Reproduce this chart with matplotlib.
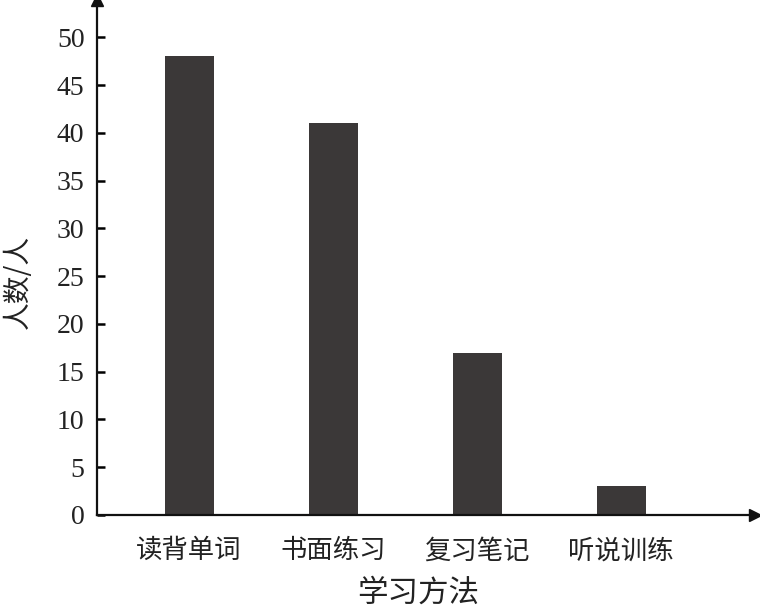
"""Bar chart: number of students by study method."""

import matplotlib
matplotlib.use('Agg')
import matplotlib.pyplot as plt

plt.rcParams['font.family'] = ['Liberation Serif', 'Noto Sans CJK SC', 'DejaVu Sans']

# Data
methods = ['读背单词', '书面练习', '复习笔记', '听说训练']
counts = [48, 41, 17, 3]
y_ticks = [0, 5, 10, 15, 20, 25, 30, 35, 40, 45, 50]

fig = plt.figure(figsize=(7.6, 6.09), dpi=100)
ax = fig.add_axes([0.1276, 0.1544, 0.8658, 0.8456])

positions = list(range(len(methods)))
ax.bar(positions, counts, width=0.34, color='#3b3838', edgecolor='none', zorder=2)

ax.set_xlim(-0.64, 3.93)
ax.set_ylim(0, 53.9)

for side in ['top', 'right']:
    ax.spines[side].set_visible(False)
for side in ['left', 'bottom']:
    ax.spines[side].set_linewidth(1.6)
    ax.spines[side].set_color('#111111')

# arrows at axis ends
ax.plot(1, 0, '>', color='#111111', markersize=9, transform=ax.transAxes, clip_on=False)
ax.plot(0, 1, '^', color='#111111', markersize=9, transform=ax.transAxes, clip_on=False)

ax.set_yticks(y_ticks)
ax.set_yticklabels([str(t) for t in y_ticks], fontsize=20, color='#222222')
ax.tick_params(axis='y', direction='in', length=6, width=1.8, pad=9)

ax.set_xticks(positions)
ax.set_xticklabels(methods, fontsize=19, color='#222222', family=['Noto Sans CJK SC'])
ax.tick_params(axis='x', length=0, pad=16)

ax.set_xlabel('学习方法', fontsize=22, family=['Noto Sans CJK SC'], color='#222222')
ax.xaxis.set_label_coords(0.488, -0.122)
ax.set_ylabel('人数/人', fontsize=20, family=['Noto Sans CJK SC'], color='#222222')
ax.yaxis.set_label_coords(-0.097, 0.452)

plt.savefig('out.png', dpi=100)
